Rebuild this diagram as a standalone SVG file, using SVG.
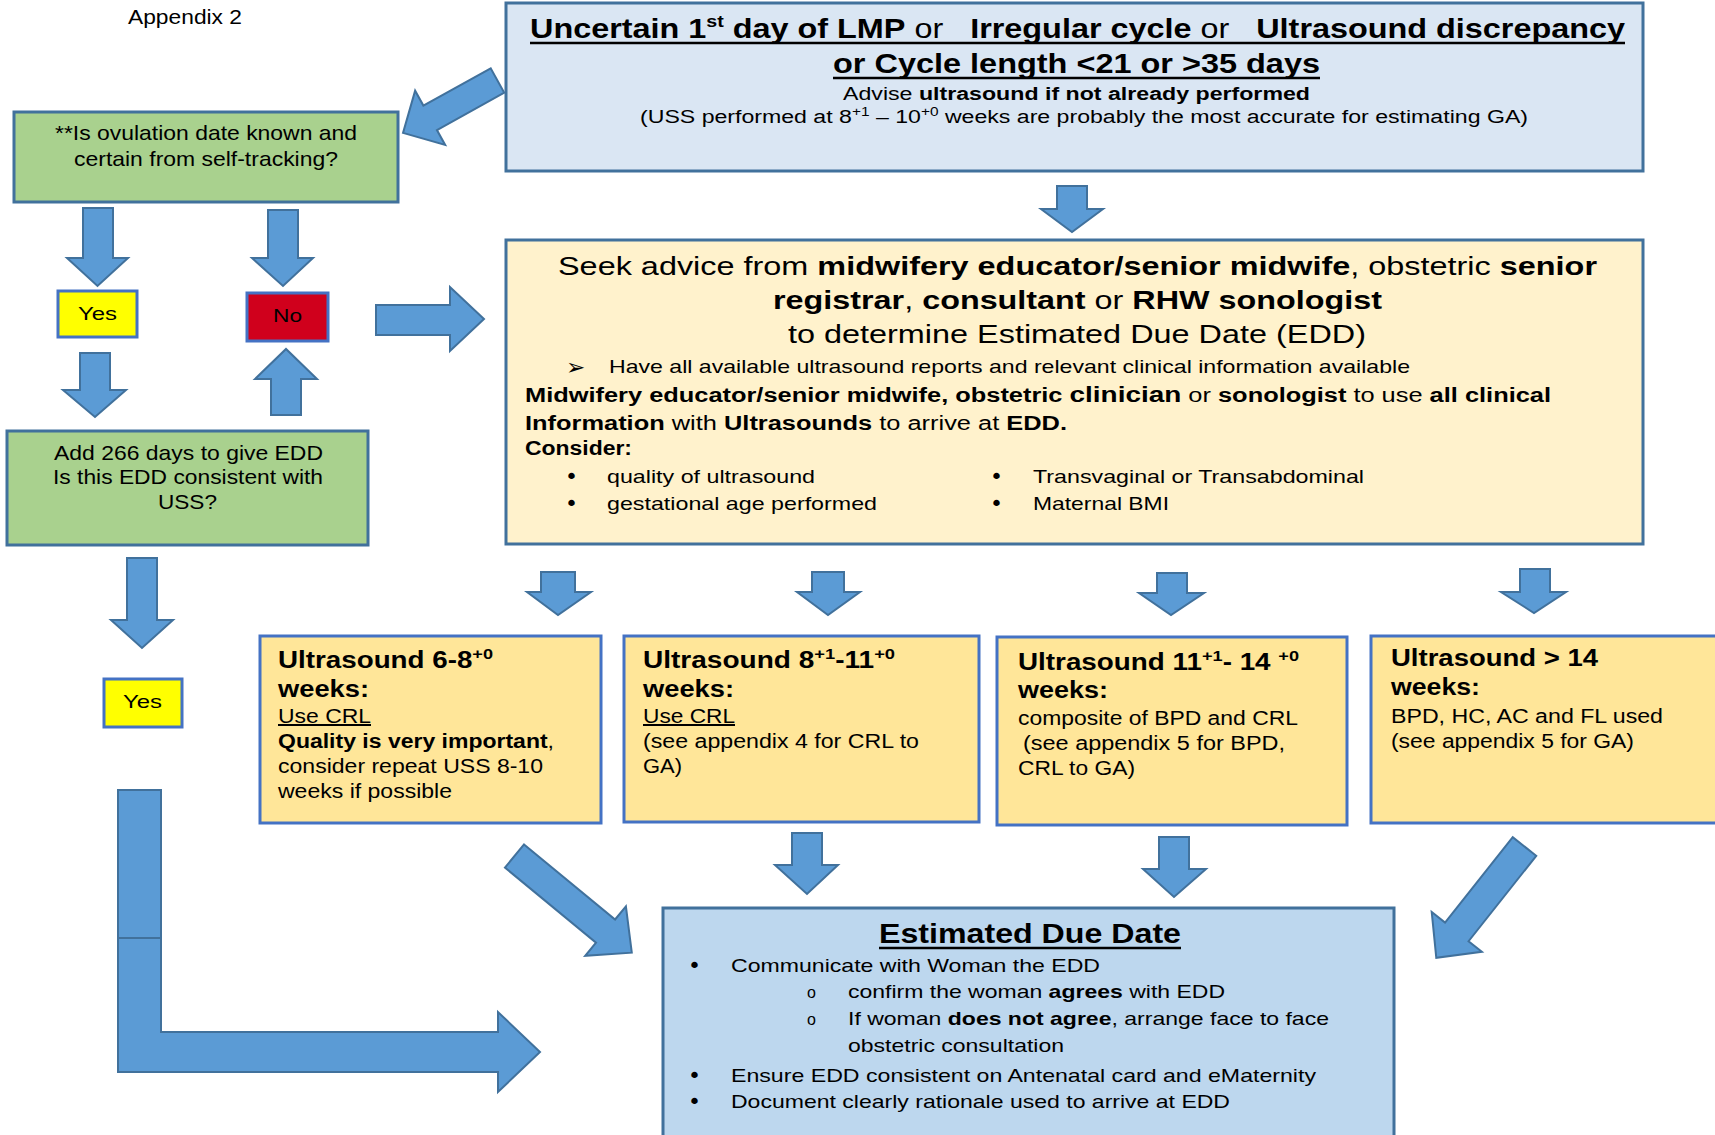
<svg xmlns="http://www.w3.org/2000/svg" width="1715" height="1135" viewBox="0 0 1715 1135">
<style>
text{font-family:"Liberation Sans",Arial,Helvetica,sans-serif;fill:#000;white-space:pre}
.b{font-weight:bold}
.n{font-weight:normal}
.u{text-decoration:underline}
.box{stroke:#41719c;stroke-width:3}
.blue{fill:#dae6f3}
.cream{fill:#fff2cc}
.gold{fill:#ffe699;stroke:#4472c4;stroke-width:3}
.green{fill:#a9d18e}
.edd{fill:#bdd7ee}
.arr{fill:#5b9bd5;stroke:#41719c;stroke-width:2}
.ul{stroke:#000;stroke-width:2.6}
.dot{font-family:"DejaVu Sans",sans-serif}
</style>
<rect width="1715" height="1135" fill="#ffffff"/>

<text id="appendix" x="128" y="24" font-size="20" textLength="114" lengthAdjust="spacingAndGlyphs">Appendix 2</text>

<g id="connectors">
  <polygon class="arr" points="0,-14 77,-14 77,-31 108,0 77,31 77,14 0,14" transform="translate(497.5,80.5) rotate(151)"/>
  <polygon class="arr" points="83,208 113,208 113,258 128,258 97.5,286 67,258 83,258"/>
  <polygon class="arr" points="268,210 298,210 298,258 313,258 283,286 252,258 268,258"/>
  <polygon class="arr" points="80,353 110,353 110,390 126,390 95,417 63,390 80,390"/>
  <polygon class="arr" points="271,415 301,415 301,379 317,379 286,349 255,379 271,379"/>
  <polygon class="arr" points="376,305 450,305 450,287 484,319 450,351 450,335 376,335"/>
  <polygon class="arr" points="1057,186 1087,186 1087,209 1103,209 1072,232 1041,209 1057,209"/>
  <polygon class="arr" points="541,572 575,572 575,592 591,592 558,615 527,592 541,592"/>
  <polygon class="arr" points="812,572 844,572 844,592 860,592 828,615 797,592 812,592"/>
  <polygon class="arr" points="1157,573 1187,573 1187,593 1204,593 1171,615 1139,593 1157,593"/>
  <polygon class="arr" points="1520,569 1550,569 1550,592 1566,592 1534,613 1501,592 1520,592"/>
  <polygon class="arr" points="127,558 157,558 157,620 173,620 142,648 111,620 127,620"/>
  <rect class="arr" x="118" y="790" width="43" height="148"/>
  <polygon class="arr" points="118,938 161,938 161,1032 498,1032 498,1012 540,1052 498,1092 498,1072 118,1072"/>
  <polygon class="arr" points="0,-15 118,-15 118,-32 152,0 118,32 118,15 0,15" transform="translate(514.5,856) rotate(39.5)"/>
  <polygon class="arr" points="792,833 822,833 822,865 838,865 807,894 775,865 792,865"/>
  <polygon class="arr" points="1159,837 1189,837 1189,869 1206,869 1174,897 1143,869 1159,869"/>
  <polygon class="arr" points="0,-15 109,-15 109,-32 142,0 109,32 109,15 0,15" transform="translate(1524.5,846.5) rotate(128.4)"/>
</g>

<g id="top-box">
  <rect class="box blue" x="506" y="3" width="1137" height="168"/>
  <text x="530" y="38" font-size="28" class="b" textLength="1095" lengthAdjust="spacingAndGlyphs">Uncertain 1<tspan font-size="17" dy="-11">st</tspan><tspan dy="11"> day of LMP</tspan><tspan class="n"> or   </tspan>Irregular cycle<tspan class="n"> or   </tspan>Ultrasound discrepancy</text>
  <line class="ul" x1="530" y1="43" x2="1625" y2="43"/>
  <text x="833" y="73" font-size="28" class="b" textLength="487" lengthAdjust="spacingAndGlyphs">or Cycle length &lt;21 or &gt;35 days</text>
  <line class="ul" x1="833" y1="78" x2="1320" y2="78"/>
  <text x="843" y="100" font-size="18" textLength="467" lengthAdjust="spacingAndGlyphs">Advise <tspan class="b">ultrasound if not already performed</tspan></text>
  <text x="640" y="123" font-size="18" textLength="888" lengthAdjust="spacingAndGlyphs">(USS performed at 8<tspan font-size="12" dy="-7">+1</tspan><tspan dy="7"> – 10</tspan><tspan font-size="12" dy="-7">+0</tspan><tspan dy="7"> weeks are probably the most accurate for estimating GA)</tspan></text>
</g>

<g id="ovulation-question">
  <rect class="box green" x="14" y="112" width="384" height="90"/>
  <text x="55" y="140" font-size="21" textLength="302" lengthAdjust="spacingAndGlyphs">**Is ovulation date known and</text>
  <text x="74" y="166" font-size="21" textLength="264" lengthAdjust="spacingAndGlyphs">certain from self-tracking?</text>
</g>

<g id="yes-1">
  <rect x="58" y="291" width="79" height="46" fill="#ffff00" stroke="#4472c4" stroke-width="3"/>
  <text x="78" y="320" font-size="19" textLength="39" lengthAdjust="spacingAndGlyphs">Yes</text>
</g>

<g id="no">
  <rect x="247" y="293" width="81" height="48" fill="#d0001c" stroke="#4472c4" stroke-width="3"/>
  <text x="273" y="322" font-size="19" textLength="29" lengthAdjust="spacingAndGlyphs">No</text>
</g>

<g id="add-266">
  <rect class="box green" x="7" y="431" width="361" height="114"/>
  <text x="54" y="460" font-size="21" textLength="269" lengthAdjust="spacingAndGlyphs">Add 266 days to give EDD</text>
  <text x="53" y="484" font-size="21" textLength="270" lengthAdjust="spacingAndGlyphs">Is this EDD consistent with</text>
  <text x="158" y="509" font-size="21" textLength="59" lengthAdjust="spacingAndGlyphs">USS?</text>
</g>

<g id="yes-2">
  <rect x="104" y="679" width="78" height="48" fill="#ffff00" stroke="#4472c4" stroke-width="3"/>
  <text x="123" y="708" font-size="19" textLength="39" lengthAdjust="spacingAndGlyphs">Yes</text>
</g>

<g id="seek-advice">
  <rect class="box cream" x="506" y="240" width="1137" height="304"/>
  <text x="558" y="275" font-size="26" textLength="1039" lengthAdjust="spacingAndGlyphs">Seek advice from <tspan class="b">midwifery educator/senior midwife</tspan>, obstetric <tspan class="b">senior</tspan></text>
  <text x="773" y="309" font-size="26" textLength="609" lengthAdjust="spacingAndGlyphs"><tspan class="b">registrar</tspan>, <tspan class="b">consultant</tspan> or <tspan class="b">RHW sonologist</tspan></text>
  <text x="788" y="343" font-size="26" textLength="578" lengthAdjust="spacingAndGlyphs">to determine Estimated Due Date (EDD)</text>
  <text x="566" y="375" font-size="23" class="dot">➢</text>
  <text x="609" y="373" font-size="19" textLength="801" lengthAdjust="spacingAndGlyphs">Have all available ultrasound reports and relevant clinical information available</text>
  <text x="525" y="402" font-size="20" textLength="1026" lengthAdjust="spacingAndGlyphs"><tspan class="b">Midwifery educator/senior midwife, obstetric </tspan><tspan class="b" font-size="22">clinician</tspan> or <tspan class="b">sonologist</tspan> to use <tspan class="b">all clinical</tspan></text>
  <text x="525" y="430" font-size="20" textLength="542" lengthAdjust="spacingAndGlyphs"><tspan class="b">Information</tspan> with <tspan class="b">Ultrasounds</tspan> to arrive at <tspan class="b">EDD.</tspan></text>
  <text x="525" y="455" font-size="20" class="b" textLength="107" lengthAdjust="spacingAndGlyphs">Consider:</text>
  <text x="565" y="484" font-size="22" class="dot">•</text>
  <text x="607" y="483" font-size="19" textLength="208" lengthAdjust="spacingAndGlyphs">quality of ultrasound</text>
  <text x="565" y="511" font-size="22" class="dot">•</text>
  <text x="607" y="510" font-size="19" textLength="270" lengthAdjust="spacingAndGlyphs">gestational age performed</text>
  <text x="990" y="484" font-size="22" class="dot">•</text>
  <text x="1033" y="483" font-size="19" textLength="331" lengthAdjust="spacingAndGlyphs">Transvaginal or Transabdominal</text>
  <text x="990" y="511" font-size="22" class="dot">•</text>
  <text x="1033" y="510" font-size="19" textLength="136" lengthAdjust="spacingAndGlyphs">Maternal BMI</text>
</g>

<g id="us-6-8">
  <rect class="gold" x="260" y="636" width="341" height="187"/>
  <text x="278" y="668" font-size="23" class="b" textLength="215" lengthAdjust="spacingAndGlyphs">Ultrasound 6-8<tspan font-size="15" dy="-9">+0</tspan></text>
  <text x="278" y="697" font-size="23" class="b" textLength="91" lengthAdjust="spacingAndGlyphs">weeks:</text>
  <text x="278" y="723" font-size="20" class="u" textLength="93" lengthAdjust="spacingAndGlyphs">Use CRL</text>
  <text x="278" y="748" font-size="20" textLength="276" lengthAdjust="spacingAndGlyphs"><tspan class="b">Quality is very important</tspan>,</text>
  <text x="278" y="773" font-size="20" textLength="265" lengthAdjust="spacingAndGlyphs">consider repeat USS 8-10</text>
  <text x="278" y="798" font-size="20" textLength="174" lengthAdjust="spacingAndGlyphs">weeks if possible</text>
</g>

<g id="us-8-11">
  <rect class="gold" x="624" y="636" width="355" height="186"/>
  <text x="643" y="668" font-size="23" class="b" textLength="252" lengthAdjust="spacingAndGlyphs">Ultrasound 8<tspan font-size="15" dy="-9">+1</tspan><tspan dy="9">-11</tspan><tspan font-size="15" dy="-9">+0</tspan></text>
  <text x="643" y="697" font-size="23" class="b" textLength="91" lengthAdjust="spacingAndGlyphs">weeks:</text>
  <text x="643" y="723" font-size="20" class="u" textLength="92" lengthAdjust="spacingAndGlyphs">Use CRL</text>
  <text x="643" y="748" font-size="20" textLength="276" lengthAdjust="spacingAndGlyphs">(see appendix 4 for CRL to</text>
  <text x="643" y="773" font-size="20" textLength="39" lengthAdjust="spacingAndGlyphs">GA)</text>
</g>

<g id="us-11-14">
  <rect class="gold" x="997" y="637" width="350" height="188"/>
  <text x="1018" y="670" font-size="23" class="b" textLength="281" lengthAdjust="spacingAndGlyphs">Ultrasound 11<tspan font-size="15" dy="-9">+1</tspan><tspan dy="9">- 14 </tspan><tspan font-size="15" dy="-9">+0</tspan></text>
  <text x="1018" y="698" font-size="23" class="b" textLength="90" lengthAdjust="spacingAndGlyphs">weeks:</text>
  <text x="1018" y="725" font-size="20" textLength="280" lengthAdjust="spacingAndGlyphs">composite of BPD and CRL</text>
  <text x="1023" y="750" font-size="20" textLength="262" lengthAdjust="spacingAndGlyphs">(see appendix 5 for BPD,</text>
  <text x="1018" y="775" font-size="20" textLength="117" lengthAdjust="spacingAndGlyphs">CRL to GA)</text>
</g>

<g id="us-over-14">
  <rect class="gold" x="1371" y="636" width="360" height="187"/>
  <text x="1391" y="666" font-size="23" class="b" textLength="207" lengthAdjust="spacingAndGlyphs">Ultrasound &gt; 14</text>
  <text x="1391" y="695" font-size="23" class="b" textLength="89" lengthAdjust="spacingAndGlyphs">weeks:</text>
  <text x="1391" y="723" font-size="20" textLength="272" lengthAdjust="spacingAndGlyphs">BPD, HC, AC and FL used</text>
  <text x="1391" y="748" font-size="20" textLength="243" lengthAdjust="spacingAndGlyphs">(see appendix 5 for GA)</text>
</g>

<g id="estimated-due-date">
  <rect class="box edd" x="663" y="908" width="731" height="235"/>
  <text x="879" y="943" font-size="28" class="b" textLength="302" lengthAdjust="spacingAndGlyphs">Estimated Due Date</text>
  <line class="ul" x1="879" y1="948" x2="1181" y2="948"/>
  <text x="688" y="973" font-size="22" class="dot">•</text>
  <text x="731" y="972" font-size="19" textLength="369" lengthAdjust="spacingAndGlyphs">Communicate with Woman the EDD</text>
  <text x="807" y="998" font-size="16" class="n">o</text>
  <text x="848" y="998" font-size="19" textLength="377" lengthAdjust="spacingAndGlyphs">confirm the woman <tspan class="b">agrees</tspan> with EDD</text>
  <text x="807" y="1025" font-size="16" class="n">o</text>
  <text x="848" y="1025" font-size="19" textLength="481" lengthAdjust="spacingAndGlyphs">If woman <tspan class="b">does not agree</tspan>, arrange face to face</text>
  <text x="848" y="1052" font-size="19" textLength="216" lengthAdjust="spacingAndGlyphs">obstetric consultation</text>
  <text x="688" y="1083" font-size="22" class="dot">•</text>
  <text x="731" y="1082" font-size="19" textLength="585" lengthAdjust="spacingAndGlyphs">Ensure EDD consistent on Antenatal card and eMaternity</text>
  <text x="688" y="1109" font-size="22" class="dot">•</text>
  <text x="731" y="1108" font-size="19" textLength="499" lengthAdjust="spacingAndGlyphs">Document clearly rationale used to arrive at EDD</text>
</g>
</svg>
